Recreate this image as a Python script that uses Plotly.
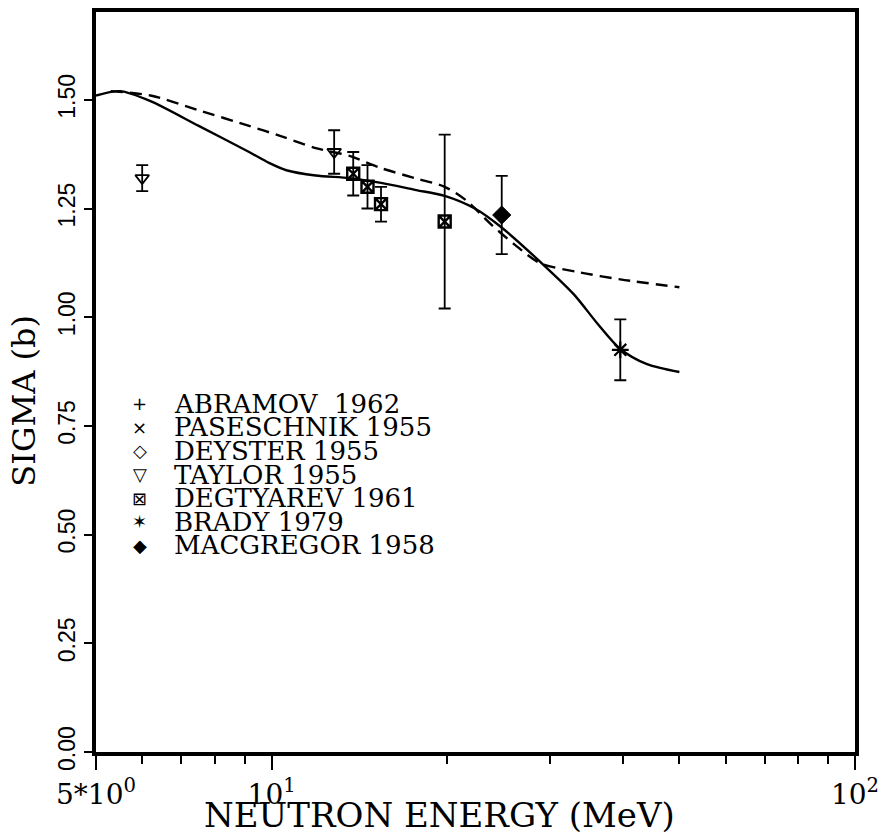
import plotly.graph_objects as go

# ---- evaluated cross sections (curves) ----
energy_solid = [5.0, 5.5, 6.2, 7.5, 9.15, 9.9, 10.6, 11.9, 13.6, 15.4, 17.6, 19.8,
                22.3, 24.7, 29.7, 33.0, 36.2, 39.6, 44.0, 50.0]
sigma_solid = [1.51, 1.52, 1.497, 1.44, 1.38, 1.355, 1.338, 1.326, 1.32, 1.309,
               1.293, 1.279, 1.25, 1.208, 1.112, 1.052, 0.985, 0.927, 0.892, 0.874]

energy_dash = [5.3, 6.2, 7.5, 9.15, 10.4, 11.9, 13.6, 15.4, 17.6, 19.8, 21.5,
               23.8, 26.1, 28.9, 33.8, 39.6, 50.0]
sigma_dash = [1.52, 1.51, 1.476, 1.44, 1.416, 1.389, 1.371, 1.343, 1.32, 1.30,
              1.27, 1.213, 1.167, 1.124, 1.103, 1.087, 1.069]

# ---- measurements ----
taylor_e = [6.0, 12.8]
taylor_s = [1.32, 1.38]
taylor_err = [0.03, 0.05]

degtyarev_e = [13.8, 14.6, 15.4, 19.8]
degtyarev_s = [1.33, 1.30, 1.26, 1.22]
degtyarev_err = [0.05, 0.05, 0.04, 0.20]

macgregor_e = [24.8]
macgregor_s = [1.235]
macgregor_err = [0.09]

brady_e = [39.6]
brady_s = [0.925]
brady_err = [0.07]

# ---- key entries ----
key_glyphs = ["+", "\u00d7", "\u25c7", "\u25bd", "\u22a0", "\u2736", "\u25c6"]
key_names = ["ABRAMOV  1962", "PASESCHNIK 1955", "DEYSTER 1955", "TAYLOR 1955",
             "DEGTYAREV 1961", "BRADY 1979", "MACGREGOR 1958"]

# ---- axis ticks ----
x_tickvals = [5, 10, 100]
x_ticktext = ["5*10<sup>0</sup>", "10<sup>1</sup>", "10<sup>2</sup>"]
x_minor = [6, 7, 8, 9, 20, 30, 40, 50, 60, 70, 80, 90]
y_tickvals = [0.0, 0.25, 0.5, 0.75, 1.0, 1.25, 1.5]

SERIF = "DejaVu Serif"
BLACK = "black"

fig = go.Figure()

fig.add_trace(go.Scatter(x=energy_solid, y=sigma_solid, mode="lines",
                         line=dict(color=BLACK, width=2.4, shape="spline", smoothing=0.8),
                         showlegend=False, hoverinfo="skip"))
fig.add_trace(go.Scatter(x=energy_dash, y=sigma_dash, mode="lines",
                         line=dict(color=BLACK, width=2.4, dash="12px,7px",
                                   shape="spline", smoothing=0.8),
                         showlegend=False, hoverinfo="skip"))


def points(xs, ys, errs, symbol, size, lw=1.6):
    return go.Scatter(
        x=xs, y=ys, mode="markers",
        marker=dict(symbol=symbol, size=size, color=BLACK,
                    line=dict(color=BLACK, width=lw)),
        error_y=dict(type="data", array=errs, visible=True,
                     color=BLACK, thickness=1.8, width=6),
        showlegend=False,
    )


fig.add_trace(points(taylor_e, taylor_s, taylor_err, "triangle-down-open", 12, 1.8))
fig.add_trace(points(degtyarev_e, degtyarev_s, degtyarev_err, "square-x-open", 12, 2.4))
fig.add_trace(points(macgregor_e, macgregor_s, macgregor_err, "diamond", 14, 1))
fig.add_trace(points(brady_e, brady_s, brady_err, "asterisk-open", 14, 2.2))

# key drawn as rows of text inside the frame
row0, step = 0.4704, 0.0318
for i, (g, name) in enumerate(zip(key_glyphs, key_names)):
    yy = row0 - i * step
    fig.add_annotation(x=0.0577, y=yy, xref="paper", yref="paper", text=g,
                       showarrow=False, xanchor="center", yanchor="middle",
                       font=dict(family="DejaVu Sans", size=18, color=BLACK))
    fig.add_annotation(x=0.0996, y=yy, xref="paper", yref="paper", text=name,
                       showarrow=False, xanchor="left", yanchor="middle",
                       font=dict(family=SERIF, size=26, color=BLACK))

# axis titles
fig.add_annotation(x=0.452, y=-0.085, xref="paper", yref="paper",
                   text="NEUTRON ENERGY (MeV)", showarrow=False,
                   xanchor="center", yanchor="middle",
                   font=dict(family=SERIF, size=34, color=BLACK))
fig.add_annotation(x=-0.096, y=0.475, xref="paper", yref="paper",
                   text="SIGMA (b)", showarrow=False, textangle=-90,
                   xanchor="center", yanchor="middle",
                   font=dict(family=SERIF, size=32, color=BLACK))

fig.update_layout(
    width=887, height=837,
    margin=dict(l=96, r=28, t=8, b=85),
    plot_bgcolor="white", paper_bgcolor="white",
    showlegend=False,
)

fig.update_xaxes(
    type="log", range=[0.69897, 2.0],
    tickvals=x_tickvals, ticktext=x_ticktext,
    ticks="outside", ticklen=14, tickwidth=2, tickcolor=BLACK,
    tickfont=dict(family=SERIF, size=28, color=BLACK),
    minor=dict(tickvals=x_minor, ticks="outside", ticklen=8,
               tickwidth=2, tickcolor=BLACK, showgrid=False),
    showline=True, linewidth=4, linecolor=BLACK, mirror=True,
    showgrid=False, zeroline=False,
)

fig.update_yaxes(
    range=[0, 1.702],
    tickvals=y_tickvals, tickformat=".2f", tickangle=-90,
    ticks="outside", ticklen=8, tickwidth=2, tickcolor=BLACK,
    tickfont=dict(family="Liberation Sans", size=23, color=BLACK),
    showline=True, linewidth=4, linecolor=BLACK, mirror=True,
    showgrid=False, zeroline=False,
)

fig.write_html("out.html")
